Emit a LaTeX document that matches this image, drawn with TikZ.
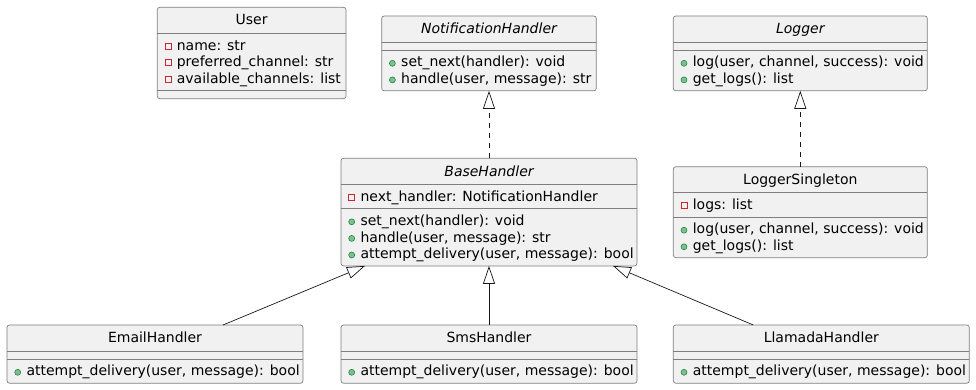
\documentclass[tikz,border=0pt]{standalone}
\usepackage{fontspec}
\setmainfont{DejaVu Sans}
\usetikzlibrary{arrows.meta,calc}

\definecolor{boxfill}{HTML}{F1F1F1}
\definecolor{boxedge}{HTML}{7E7E7E}
\definecolor{boxline}{HTML}{181818}
\definecolor{privred}{HTML}{C82930}
\definecolor{pubgreen}{HTML}{84BE84}
\definecolor{pubedge}{HTML}{038048}

\newcommand\umlfont{\fontsize{14}{17}\selectfont}

\tikzset{
  classbox/.style={draw=boxedge, fill=boxfill, line width=0.7pt,
    rounded corners=2.5pt, anchor=north west, inner sep=0pt, outer sep=0pt},
  classname/.style={anchor=base, inner sep=0pt, font=\umlfont},
  abstractname/.style={classname, font=\umlfont\itshape},
  member/.style={anchor=base west, inner sep=0pt, font=\umlfont},
  sepline/.style={draw=boxedge, line width=0.7pt},
  privicon/.style={draw=privred, line width=0.6pt},
  pubicon/.style={draw=pubedge, fill=pubgreen, line width=0.5pt},
  inherit/.style={draw=boxline, line width=0.7pt,
    -{Triangle[length=18pt,width=12pt,fill=white]}},
  realize/.style={inherit, dash pattern=on 5pt off 5pt},
}

% name, left edge of the box, baseline, text
\newcommand\privline[4]{%
   \draw[privicon] (#2+7.7,#3-7) rectangle ++(6,6);
   \node[member] (#1) at (#2+19.3,#3) {#4};}
\newcommand\publine[4]{%
   \draw[pubicon] (#2+10.7,#3-3.6) circle (3pt);
   \node[member] (#1) at (#2+19.3,#3) {#4};}

\begin{document}
\begin{tikzpicture}[x=1pt,y=-1pt]
   \useasboundingbox (0,0) rectangle (976,390);

   % User
   \node[classbox, minimum width=188.7, minimum height=91.4] (user) at (157.3,7.3) {};
   \node[classname] (user-name) at (user.north |- 0,25) {User};
   \draw[sepline] (user.west |- 0,33.3) -- (user.east |- 0,33.3);
   \privline{user-a1}{157.3}{50.2}{name: str}
   \privline{user-a2}{157.3}{66.8}{preferred\_channel: str}
   \privline{user-a3}{157.3}{83.4}{available\_channels: list}
   \draw[sepline] (user.west |- 0,90.7) -- (user.east |- 0,90.7);

   % NotificationHandler
   \node[classbox, minimum width=214.6, minimum height=74.8] (notif) at (381.7,16) {};
   \node[abstractname] (notif-name) at (notif.north |- 0,33.7) {NotificationHandler};
   \draw[sepline] (notif.west |- 0,42) -- (notif.east |- 0,42);
   \draw[sepline] (notif.west |- 0,50) -- (notif.east |- 0,50);
   \publine{notif-m1}{381.7}{66.9}{set\_next(handler): void}
   \publine{notif-m2}{381.7}{83.5}{handle(user, message): str}

   % Logger
   \node[classbox, minimum width=254, minimum height=74.8] (logger) at (673.3,16) {};
   \node[abstractname] (logger-name) at (logger.north |- 0,33.7) {Logger};
   \draw[sepline] (logger.west |- 0,42) -- (logger.east |- 0,42);
   \draw[sepline] (logger.west |- 0,50) -- (logger.east |- 0,50);
   \publine{logger-m1}{673.3}{66.9}{log(user, channel, success): void}
   \publine{logger-m2}{673.3}{83.5}{get\_logs(): list}

   % BaseHandler
   \node[classbox, minimum width=296, minimum height=107.6] (base) at (341,158.3) {};
   \node[abstractname] (base-name) at (base.north |- 0,176) {BaseHandler};
   \draw[sepline] (base.west |- 0,184.3) -- (base.east |- 0,184.3);
   \privline{base-a1}{341}{201.2}{next\_handler: NotificationHandler}
   \draw[sepline] (base.west |- 0,208.5) -- (base.east |- 0,208.5);
   \publine{base-m1}{341}{225.4}{set\_next(handler): void}
   \publine{base-m2}{341}{242}{handle(user, message): str}
   \publine{base-m3}{341}{258.6}{attempt\_delivery(user, message): bool}

   % LoggerSingleton
   \node[classbox, minimum width=254, minimum height=91] (single) at (673.3,166.7) {};
   \node[classname] (single-name) at (single.north |- 0,184.4) {LoggerSingleton};
   \draw[sepline] (single.west |- 0,192.7) -- (single.east |- 0,192.7);
   \privline{single-a1}{673.3}{209.6}{logs: list}
   \draw[sepline] (single.west |- 0,216.9) -- (single.east |- 0,216.9);
   \publine{single-m1}{673.3}{233.8}{log(user, channel, success): void}
   \publine{single-m2}{673.3}{250.4}{get\_logs(): list}

   % concrete handlers
   \node[classbox, minimum width=296, minimum height=58.2] (email) at (7,325) {};
   \node[classname] (email-name) at (email.north |- 0,342.7) {EmailHandler};
   \draw[sepline] (email.west |- 0,351) -- (email.east |- 0,351);
   \draw[sepline] (email.west |- 0,359) -- (email.east |- 0,359);
   \publine{email-m1}{7}{375.9}{attempt\_delivery(user, message): bool}

   \node[classbox, minimum width=296, minimum height=58.2] (sms) at (341,325) {};
   \node[classname] (sms-name) at (sms.north |- 0,342.7) {SmsHandler};
   \draw[sepline] (sms.west |- 0,351) -- (sms.east |- 0,351);
   \draw[sepline] (sms.west |- 0,359) -- (sms.east |- 0,359);
   \publine{sms-m1}{341}{375.9}{attempt\_delivery(user, message): bool}

   \node[classbox, minimum width=296, minimum height=58.2] (llamada) at (673.3,325) {};
   \node[classname] (llamada-name) at (llamada.north |- 0,342.7) {LlamadaHandler};
   \draw[sepline] (llamada.west |- 0,351) -- (llamada.east |- 0,351);
   \draw[sepline] (llamada.west |- 0,359) -- (llamada.east |- 0,359);
   \publine{llamada-m1}{673.3}{375.9}{attempt\_delivery(user, message): bool}

   % realizations and generalizations
   \draw[realize] (base.north) -- (base.north |- notif.south);
   \draw[realize] (single.north) -- (logger.south);
   \draw[inherit] ($(email.north)+(68,0)$) -- ($(base.south)+(-124,0)$);
   \draw[inherit] (sms.north) -- (base.south);
   \draw[inherit] ($(llamada.north)+(-68,0)$) -- ($(base.south)+(124,0)$);
\end{tikzpicture}
\end{document}
